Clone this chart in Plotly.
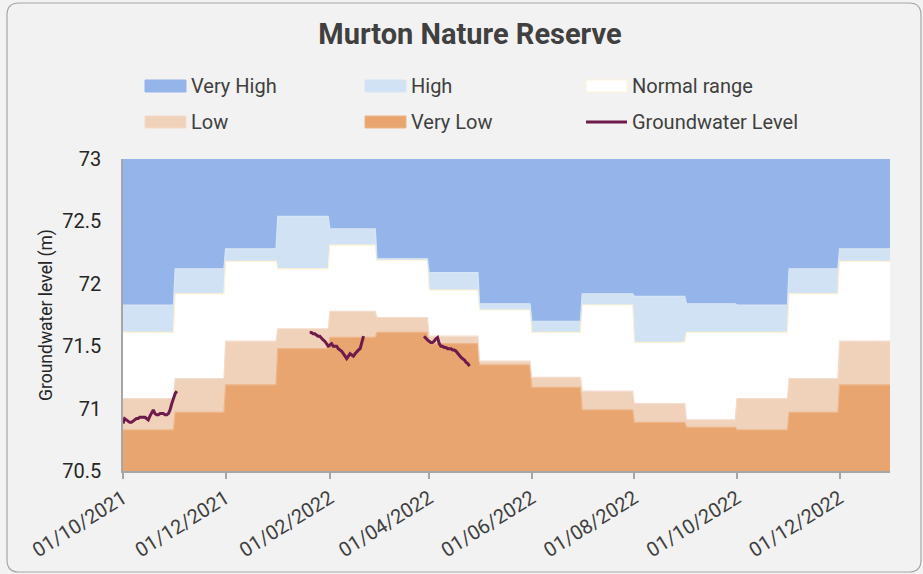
import pandas as pd
import plotly.graph_objects as go

# ---------------- data ----------------
months = ["2021-10", "2021-11", "2021-12", "2022-01", "2022-02", "2022-03", "2022-04",
          "2022-05", "2022-06", "2022-07", "2022-08", "2022-09", "2022-10", "2022-11", "2022-12"]
very_low_top = [70.83, 70.97, 71.19, 71.48, 71.57, 71.61, 71.52, 71.35, 71.17, 70.99, 70.89, 70.85, 70.83, 70.97, 71.19]
low_top      = [71.08, 71.24, 71.54, 71.64, 71.78, 71.73, 71.58, 71.38, 71.25, 71.14, 71.04, 70.91, 71.08, 71.24, 71.54]
normal_top   = [71.61, 71.92, 72.18, 72.12, 72.31, 72.19, 71.95, 71.79, 71.61, 71.83, 71.53, 71.61, 71.61, 71.92, 72.18]
high_top     = [71.83, 72.12, 72.28, 72.54, 72.44, 72.20, 72.09, 71.84, 71.70, 71.92, 71.90, 71.84, 71.83, 72.12, 72.28]
very_high_top = [73.0] * 15

gw_seg1_start = "2021-10-01"
gw_seg1 = [70.88, 70.92, 70.91, 70.90, 70.89, 70.89, 70.90, 70.91, 70.92, 70.92, 70.93, 70.93,
           70.93, 70.93, 70.92, 70.91, 70.94, 70.97, 70.99, 70.96, 70.95, 70.95, 70.96, 70.96,
           70.96, 70.95, 70.95, 70.96, 70.99, 71.04, 71.08, 71.12, 71.14]
gw_seg2_start = "2022-01-20"
gw_seg2 = [71.61, 71.61, 71.60, 71.60, 71.59, 71.58, 71.58, 71.56, 71.55, 71.54, 71.52, 71.50,
           71.51, 71.52, 71.50, 71.50, 71.50, 71.48, 71.47, 71.46, 71.44, 71.42, 71.40, 71.42,
           71.44, 71.43, 71.42, 71.44, 71.46, 71.47, 71.48, 71.53, 71.58]
gw_seg3_start = "2022-03-29"
gw_seg3 = [71.58, 71.56, 71.55, 71.54, 71.53, 71.53, 71.54, 71.56, 71.57, 71.52, 71.50, 71.50,
           71.49, 71.49, 71.48, 71.48, 71.48, 71.47, 71.47, 71.46, 71.44, 71.42, 71.41, 71.40,
           71.39, 71.37, 71.36, 71.34]

y_ticks = [70.5, 71, 71.5, 72, 72.5, 73]
y_tick_labels = ["70.5", "71", "71.5", "72", "72.5", "73"]

legend_names = ["Very High", "High", "Normal range", "Low", "Very Low", "Groundwater Level"]

# ---------------- build step series ----------------
xs = []
def steps(vals):
    out = []
    for v in vals:
        out += [v, v]
    return out
for m in months:
    ms = pd.Timestamp(m + "-01")
    me = ms + pd.offsets.MonthBegin(1) - pd.Timedelta(days=1)
    xs += [ms, me]

gw_x, gw_y = [], []
for start, seg in [(gw_seg1_start, gw_seg1), (gw_seg2_start, gw_seg2), (gw_seg3_start, gw_seg3)]:
    d = pd.date_range(start, periods=len(seg), freq="D")
    gw_x += list(d) + [None]
    gw_y += list(seg) + [None]

styles = {
    "Very Low": ("#E8A570", "#EDB588"),
    "Low": ("#F0D1B9", "#F3DCCB"),
    "Normal range": ("#FFFFFF", "#FFF3D4"),
    "High": ("#D0E2F3", "#D7E6F4"),
    "Very High": ("#95B5EA", "#95B5EA"),
}
gw_color = "#6E1A4A"

fig = go.Figure()
band_order = [("Very Low", very_low_top, "tozeroy"), ("Low", low_top, "tonexty"),
              ("Normal range", normal_top, "tonexty"), ("High", high_top, "tonexty"),
              ("Very High", very_high_top, "tonexty")]
for name, vals, fill in band_order:
    fc, lc = styles[name]
    fig.add_trace(go.Scatter(
        x=xs, y=steps(vals), name=name, mode="lines", fill=fill,
        fillcolor=fc, line=dict(color=lc, width=1.2), showlegend=False,
        hoverinfo="skip"))

fig.add_trace(go.Scatter(
    x=gw_x, y=gw_y, name="Groundwater Level", mode="lines",
    line=dict(color=gw_color, width=3), connectgaps=False, showlegend=False))

# ---------------- layout ----------------
L, R, T, B = 123, 33, 159, 103
W, H = 923, 574
pw, ph = W - L - R, H - T - B
def px(x):
    return (x - L) / pw
def py(y):
    return (H - B - y) / ph

# rounded chart border
x0, x1, y0, y1, r = 7, 921, 3, 572, 12
path = (f"M {px(x0 + r)},{py(y0)} L {px(x1 - r)},{py(y0)} Q {px(x1)},{py(y0)} {px(x1)},{py(y0 + r)} "
        f"L {px(x1)},{py(y1 - r)} Q {px(x1)},{py(y1)} {px(x1 - r)},{py(y1)} "
        f"L {px(x0 + r)},{py(y1)} Q {px(x0)},{py(y1)} {px(x0)},{py(y1 - r)} "
        f"L {px(x0)},{py(y0 + r)} Q {px(x0)},{py(y0)} {px(x0 + r)},{py(y0)} Z")
shapes = [dict(type="path", path=path, xref="paper", yref="paper",
               line=dict(color="#A6A6A6", width=1.2), fillcolor="rgba(0,0,0,0)", layer="above")]
annotations = []

# legend (3 columns x 2 rows)
col_x = [145, 365, 586]
row_y = [86, 122]
for i, name in enumerate(legend_names):
    cx = col_x[i % 3]
    cy = row_y[i // 3]
    if name == "Groundwater Level":
        shapes.append(dict(type="line", xref="paper", yref="paper",
                           x0=px(cx), x1=px(cx + 41), y0=py(cy), y1=py(cy),
                           line=dict(color=gw_color, width=3)))
    else:
        fc, lc = styles[name]
        shapes.append(dict(type="rect", xref="paper", yref="paper",
                           x0=px(cx), x1=px(cx + 41), y0=py(cy - 6), y1=py(cy + 6),
                           fillcolor=fc, line=dict(color=lc, width=1)))
    annotations.append(dict(text=name, xref="paper", yref="paper", x=px(cx + 44), y=py(cy),
                            xanchor="left", yanchor="middle", showarrow=False,
                            font=dict(family="Roboto", size=20, color="#404040")))

fig.update_layout(
    width=W, height=H,
    margin=dict(l=L, r=R, t=T, b=B),
    paper_bgcolor="#F2F2F2", plot_bgcolor="#F2F2F2",
    title=dict(text="<b>Murton Nature Reserve</b>", x=470 / W, xanchor="center",
               y=1 - 34 / H, yanchor="middle",
               font=dict(family="Roboto", size=29, color="#404040")),
    showlegend=False,
    xaxis=dict(type="date", range=["2021-10-01", "2022-12-31"],
               tick0="2021-10-01", dtick="M2", tickformat="%d/%m/%Y", tickangle=-32,
               ticks="outside", ticklen=6, tickcolor="#A6A6A6", tickwidth=1.5,
               showline=True, linecolor="#A6A6A6", linewidth=1.5, showgrid=False,
               zeroline=False,
               tickfont=dict(family="Roboto", size=20, color="#404040")),
    yaxis=dict(range=[70.5, 73], tickvals=y_ticks, ticktext=y_tick_labels,
               showline=True, linecolor="#A6A6A6", linewidth=1.5, showgrid=False,
               zeroline=False, ticks="", ticklabelstandoff=16,
               tickfont=dict(family="Roboto", size=20, color="#262626"),
               title=dict(text="Groundwater level (m)", standoff=5,
                          font=dict(family="Roboto", size=17.5, color="#262626"))),
    shapes=shapes,
    annotations=annotations,
)

fig.write_html("out.html", config={"displayModeBar": False},
               post_script="document.body.style.margin='0px';")
